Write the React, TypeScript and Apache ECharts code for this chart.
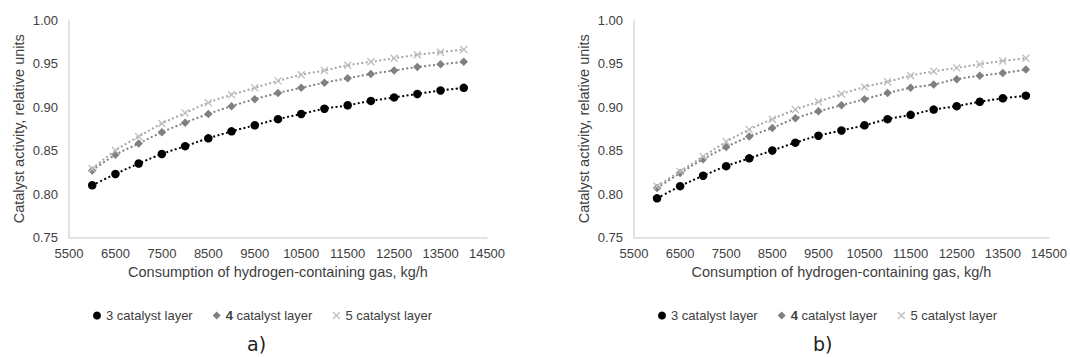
import React, { useEffect, useRef } from "react";
import * as echarts from "echarts";

const xValues = [6000, 6500, 7000, 7500, 8000, 8500, 9000, 9500, 10000, 10500, 11000, 11500, 12000, 12500, 13000, 13500, 14000];

const a3 = [0.810, 0.823, 0.835, 0.846, 0.855, 0.864, 0.872, 0.879, 0.886, 0.892, 0.898, 0.902, 0.907, 0.911, 0.915, 0.919, 0.922];
const a4 = [0.827, 0.845, 0.858, 0.871, 0.882, 0.892, 0.901, 0.909, 0.916, 0.922, 0.928, 0.933, 0.938, 0.942, 0.946, 0.949, 0.952];
const a5 = [0.829, 0.850, 0.866, 0.881, 0.893, 0.905, 0.914, 0.922, 0.930, 0.937, 0.942, 0.948, 0.952, 0.956, 0.960, 0.963, 0.966];

const b3 = [0.795, 0.809, 0.821, 0.832, 0.841, 0.850, 0.859, 0.867, 0.873, 0.879, 0.886, 0.891, 0.897, 0.901, 0.906, 0.910, 0.913];
const b4 = [0.807, 0.824, 0.840, 0.854, 0.866, 0.876, 0.887, 0.895, 0.902, 0.909, 0.916, 0.922, 0.926, 0.932, 0.936, 0.939, 0.943];
const b5 = [0.809, 0.826, 0.843, 0.860, 0.874, 0.886, 0.897, 0.906, 0.915, 0.923, 0.929, 0.936, 0.941, 0.945, 0.949, 0.953, 0.956];

const seriesNames = ["3 catalyst layer", "4 catalyst layer", "5 catalyst layer"];
const xTitle = "Consumption of hydrogen-containing gas, kg/h";
const yTitle = "Catalyst activity, relative units";
const panelLabels = ["a)", "b)"];

const FONT = "'Liberation Sans', Arial, sans-serif";
const TEXT = "#404040";
const CROSS = "path://M0,1.2 L1.2,0 L5,3.8 L8.8,0 L10,1.2 L6.2,5 L10,8.8 L8.8,10 L5,6.2 L1.2,10 L0,8.8 L3.8,5 Z";

const styles = [
  { color: "#000000", line: "#000000", symbol: "circle", size: 8.5 },
  { color: "#808080", line: "#808080", symbol: "diamond", size: 8.5 },
  { color: "#bfbfbf", line: "#a6a6a6", symbol: CROSS, size: 8 },
];

function zip(ys: number[]) {
  return xValues.map((x, i) => [x, ys[i]]);
}

export default function App() {
  const ref = useRef<HTMLDivElement>(null);
  useEffect(() => {
    if (!ref.current) return;
    const chart = echarts.init(ref.current, null, { renderer: "svg" });
    const grids = [
      { left: 69, top: 20, width: 418, height: 217.5 },
      { left: 634, top: 20, width: 419, height: 217.5 },
    ];
    const xAxis = grids.map((_, i) => ({
      type: "value",
      gridIndex: i,
      min: 5500,
      max: 14500,
      interval: 1000,
      name: xTitle,
      nameLocation: "middle",
      nameGap: 25,
      nameTextStyle: { fontFamily: FONT, fontSize: 14.5, color: TEXT },
      axisLine: { show: true, lineStyle: { color: "#d9d9d9", width: 1.5 } },
      axisTick: { show: false },
      splitLine: { show: false },
      axisLabel: { fontFamily: FONT, fontSize: 13, color: TEXT, margin: 9, formatter: (v: number) => String(v) },
    }));
    const yAxis = grids.map((_, i) => ({
      type: "value",
      gridIndex: i,
      min: 0.75,
      max: 1.0,
      interval: 0.05,
      name: yTitle,
      nameLocation: "middle",
      nameGap: 43,
      nameTextStyle: { fontFamily: FONT, fontSize: 14.5, color: TEXT },
      axisLine: { show: true, lineStyle: { color: "#d9d9d9", width: 1.5 } },
      axisTick: { show: false },
      splitLine: { show: false },
      axisLabel: {
        fontFamily: FONT,
        fontSize: 13,
        color: TEXT,
        margin: 11,
        formatter: (v: number) => v.toFixed(2),
      },
    }));
    const datasets = [
      [a3, a4, a5],
      [b3, b4, b5],
    ];
    const series: any[] = [];
    datasets.forEach((set, gi) => {
      set.forEach((ys, si) => {
        const st = styles[si];
        series.push({
          type: "line",
          name: seriesNames[si],
          xAxisIndex: gi,
          yAxisIndex: gi,
          data: zip(ys),
          smooth: 0.4,
          symbol: st.symbol,
          symbolSize: st.size,
          showSymbol: true,
          itemStyle: { color: st.color, borderWidth: 0 },
          lineStyle: { color: st.line, width: 2, type: [2, 2.5], cap: "butt" },
          emphasis: { disabled: true },
          z: 2 + si,
        });
      });
    });
    const legendData = seriesNames.map((n, i) => ({ name: n, icon: styles[i].symbol, itemStyle: { color: styles[i].color } }));
    const legends = [88, 653].map((left) => ({
      left,
      top: 304,
      orient: "horizontal",
      itemWidth: 8,
      itemHeight: 8,
      itemGap: 20,
      selectedMode: false,
      data: legendData,
      formatter: (name: string) => (name.startsWith("4") ? "{b|4} catalyst layer" : name),
      textStyle: {
        fontFamily: FONT,
        fontSize: 13,
        color: TEXT,
        padding: [0, 0, 0, 0],
        rich: { b: { fontFamily: FONT, fontSize: 13, color: TEXT, fontWeight: "bold" } },
      },
    }));
    chart.setOption({
      animation: false,
      backgroundColor: "#ffffff",
      grid: grids,
      xAxis,
      yAxis,
      legend: legends,
      series,
      graphic: [
        {
          type: "text",
          left: 247,
          top: 334,
          style: { text: panelLabels[0], fontFamily: "'DejaVu Sans', Verdana, sans-serif", fontSize: 19, fill: "#222222" },
        },
        {
          type: "text",
          left: 813,
          top: 334,
          style: { text: panelLabels[1], fontFamily: "'DejaVu Sans', Verdana, sans-serif", fontSize: 19, fill: "#222222" },
        },
      ],
    });
    return () => chart.dispose();
  }, []);
  return <div ref={ref} style={{ position: "absolute", left: 0, top: 0, width: 1070, height: 357 }} />;
}
